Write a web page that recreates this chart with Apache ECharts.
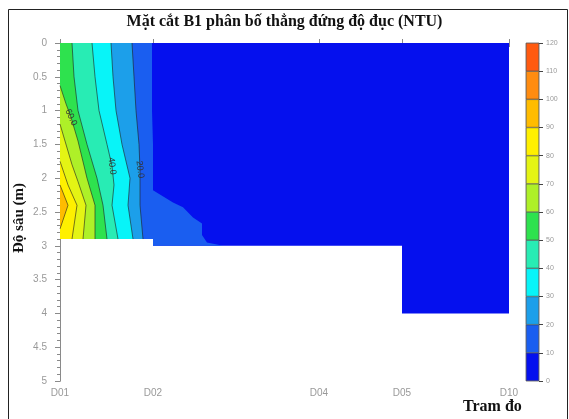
<!DOCTYPE html>
<html>
<head>
<meta charset="utf-8">
<script src="https://cdn.jsdelivr.net/npm/echarts@6/dist/echarts.min.js"></script>
<style>
  html, body { margin: 0; padding: 0; background: #fff; }
  #chart { width: 569px; height: 419px; }
</style>
</head>
<body>
<div id="chart"></div>
<script>
// stations along the section and their distance from D01 (axis units)
const stations = ['D01', 'D02', 'D04', 'D05', 'D10']
const stationDist = [0, 93, 259, 342, 449]

// bottom of the measured section [distance, depth m]
const bedProfile = [[0, 2.9], [93, 2.9], [93, 3.0], [342, 3.0], [342, 4.0], [449, 4.0]]

// contour lines: [distance, depth]
const contour10 = [[92, 0], [92, 1.0], [93, 1.5], [93, 2.18], [113, 2.36], [123, 2.43], [133, 2.58], [142, 2.67], [142, 2.84], [147, 2.95], [163, 3.0]]
const contour20 = [[72, 0], [74, 0.5], [76, 1.0], [79, 1.5], [80, 1.87], [80, 2.4], [83, 2.9]]
const contour30 = [[51, 0], [53, 0.5], [56, 1.0], [62, 1.5], [70, 2.0], [68, 2.4], [73, 2.9]]
const contour40 = [[32, 0], [35, 0.5], [39, 1.0], [47, 1.5], [52, 1.82], [54, 2.1], [52, 2.4], [58, 2.9]]
const contour50 = [[12, 0], [14, 0.5], [18, 1.0], [27, 1.5], [37, 2.0], [43, 2.4], [47, 2.9]]
const contour60 = [[0, 0.63], [6, 0.9], [11, 1.1], [18, 1.45], [27, 2.0], [35, 2.4], [35, 2.9]]
const contour70 = [[0, 1.2], [5, 1.45], [12, 1.8], [18, 2.05], [26, 2.4], [23, 2.9]]
const contour80 = [[0, 1.75], [8, 2.1], [17, 2.4], [12, 2.9]]
const contour90 = [[0, 2.1], [8, 2.4], [0, 2.75]]
const contourLevels = [10, 20, 30, 40, 50, 60, 70, 80, 90]
const contourLines = [contour10, contour20, contour30, contour40, contour50, contour60, contour70, contour80, contour90]

// inline contour labels [distance, depth, text]
const contourLabels = [[11, 1.1, '60.0'], [52, 1.82, '40.0'], [80, 1.87, '20.0']]

// colour scale (NTU)
const scaleLevels = [0, 10, 20, 30, 40, 50, 60, 70, 80, 90, 100, 110, 120]
const scaleColors = ['#0510ee', '#1a5ef0', '#1c9fea', '#08f4f8', '#28ecb4', '#2ee24e',
  '#aef028', '#e4f414', '#fff000', '#ffbc00', '#ff8c10', '#ff5a10']

const depthMax = 5

const bandPolygon = (line) => {
  const pts = line.slice()
  const first = pts[0]
  const last = pts[pts.length - 1]
  if (first[1] === 0 && first[0] > 0) pts.unshift([0, 0])
  if (last[0] > 0) {
    bedProfile.filter(p => p[0] < last[0]).reverse().forEach(p => pts.push(p))
  }
  return pts
}

const polys = [{ pts: [[0, 0], [stationDist[stationDist.length - 1], 0]].concat(bedProfile.slice().reverse()), color: scaleColors[0] }]
contourLevels.forEach((lv, i) => {
  polys.push({ pts: bandPolygon(contourLines[i]), color: scaleColors[lv / 10] })
})

const chart = echarts.init(document.getElementById('chart'), null, { renderer: 'canvas' })

const axisGrey = '#8a8a8a'
const labelGrey = '#999'
const serif = '"Liberation Serif", "DejaVu Serif", serif'

chart.setOption({
  animation: false,
  backgroundColor: '#fff',
  title: {
    text: 'Mặt cắt B1 phân bố thẳng đứng độ đục (NTU)',
    left: 'center',
    top: 9,
    textStyle: { fontFamily: serif, fontWeight: 'bold', fontSize: 16, color: '#111' }
  },
  graphic: [
    {
      type: 'rect',
      shape: { x: 8.5, y: 9.5, width: 559, height: 420 },
      style: { fill: 'none', stroke: '#222', lineWidth: 1 },
      silent: true
    },
    {
      type: 'text',
      left: 463,
      top: 399,
      style: { text: 'Tram đo', font: 'bold 16px ' + serif, fill: '#111' }
    },
    {
      type: 'text',
      x: 19,
      y: 218,
      rotation: Math.PI / 2,
      style: {
        text: 'Độ sâu (m)',
        font: 'bold 15px ' + serif,
        fill: '#111',
        align: 'center',
        verticalAlign: 'middle'
      }
    }
  ],
  grid: [
    { left: 60, right: 60, top: 43, bottom: 38 },
    { left: 526, top: 43, width: 13, height: 338, show: true, borderColor: '#444', borderWidth: 0.5 }
  ],
  xAxis: [
    {
      type: 'value',
      gridIndex: 0,
      min: 0,
      max: 449,
      splitLine: { show: false },
      axisLine: { lineStyle: { color: axisGrey } },
      axisTick: { customValues: stationDist, length: 4, lineStyle: { color: axisGrey } },
      axisLabel: {
        customValues: stationDist,
        formatter: (v) => stations[stationDist.indexOf(v)] || '',
        color: labelGrey,
        fontSize: 10,
        margin: 7
      }
    },
    {
      type: 'value',
      gridIndex: 0,
      position: 'top',
      min: 0,
      max: 449,
      splitLine: { show: false },
      axisLine: { lineStyle: { color: axisGrey } },
      axisTick: { customValues: stationDist, length: 4, lineStyle: { color: axisGrey } },
      axisLabel: { show: false }
    },
    { type: 'category', gridIndex: 1, data: ['c'], show: false }
  ],
  yAxis: [
    {
      type: 'value',
      gridIndex: 0,
      inverse: true,
      min: 0,
      max: depthMax,
      interval: 0.5,
      splitLine: { show: false },
      axisLine: { lineStyle: { color: axisGrey } },
      axisTick: { length: 5, lineStyle: { color: axisGrey } },
      minorTick: { show: true, splitNumber: 5, length: 3, lineStyle: { color: axisGrey } },
      axisLabel: { color: labelGrey, fontSize: 10, margin: 13 }
    },
    {
      type: 'value',
      gridIndex: 0,
      position: 'right',
      inverse: true,
      min: 0,
      max: depthMax,
      interval: 0.5,
      splitLine: { show: false },
      axisLine: { lineStyle: { color: axisGrey } },
      axisTick: { inside: true, length: 3, lineStyle: { color: axisGrey } },
      minorTick: { show: true, splitNumber: 5, length: 2, lineStyle: { color: axisGrey } },
      axisLabel: { show: false }
    },
    {
      type: 'value',
      gridIndex: 1,
      position: 'right',
      min: 0,
      max: 120,
      interval: 10,
      splitLine: { show: false },
      axisLine: { show: false },
      axisTick: { show: true, length: 4, lineStyle: { color: '#444' } },
      axisLabel: { color: labelGrey, fontSize: 7, margin: 7 }
    }
  ],
  series: [
    {
      type: 'custom',
      xAxisIndex: 0,
      yAxisIndex: 0,
      silent: true,
      data: polys.map((p, i) => [i, 0]),
      renderItem: (params, api) => {
        const poly = polys[params.dataIndex]
        return {
          type: 'polygon',
          shape: { points: poly.pts.map(p => api.coord(p)) },
          style: { fill: poly.color }
        }
      }
    },
    {
      type: 'custom',
      xAxisIndex: 0,
      yAxisIndex: 0,
      silent: true,
      z: 3,
      data: contourLines.slice(1).map((l, i) => [i, 0]),
      renderItem: (params, api) => {
        const line = contourLines[params.dataIndex + 1]
        return {
          type: 'polyline',
          shape: { points: line.map(p => api.coord(p)) },
          style: { stroke: 'rgba(30,30,30,0.75)', lineWidth: 0.8, fill: 'none' }
        }
      }
    },
    {
      type: 'custom',
      xAxisIndex: 0,
      yAxisIndex: 0,
      silent: true,
      z: 4,
      data: contourLabels,
      renderItem: (params, api) => {
        const pt = api.coord([api.value(0), api.value(1)])
        const item = contourLabels[params.dataIndex]
        return {
          type: 'text',
          x: pt[0],
          y: pt[1],
          rotation: item[2] === '60.0' ? -1.15 : -1.45,
          style: {
            text: item[2],
            font: '9px "Liberation Sans", sans-serif',
            fill: '#333',
            align: 'center',
            verticalAlign: 'middle'
          }
        }
      }
    }
  ].concat(scaleColors.map((c, i) => ({
    type: 'bar',
    xAxisIndex: 2,
    yAxisIndex: 2,
    stack: 'scale',
    silent: true,
    barWidth: '100%',
    data: [scaleLevels[i + 1] - scaleLevels[i]],
    itemStyle: { color: c, borderColor: '#333', borderWidth: 0.5 }
  })))
})
</script>
</body>
</html>
